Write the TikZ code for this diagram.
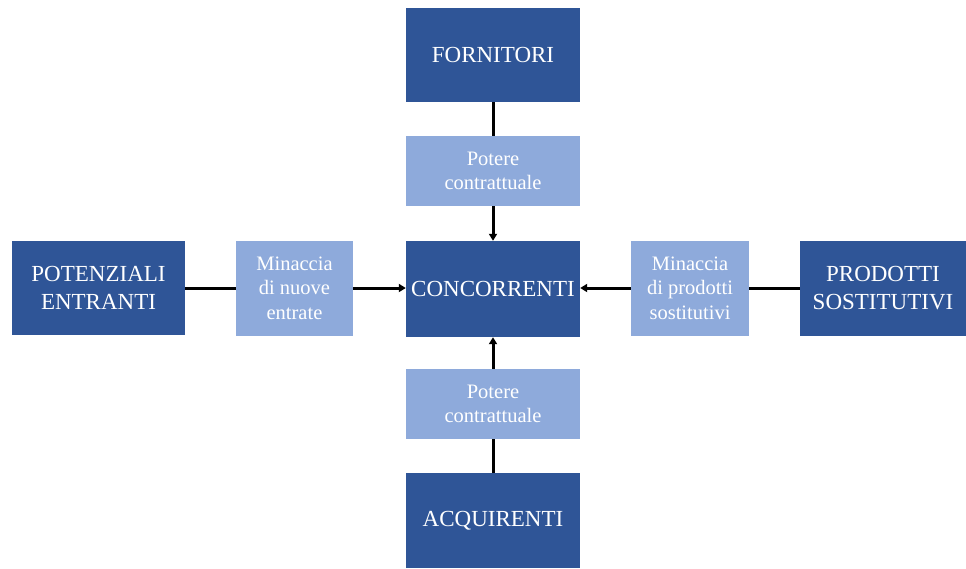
\documentclass[tikz,border=0pt]{standalone}
\usepackage{fontspec}
\setmainfont{Liberation Serif}
\usetikzlibrary{arrows.meta}
\definecolor{darkbox}{HTML}{2F5597}
\definecolor{lightbox}{HTML}{8EAADB}
\begin{document}
\begin{tikzpicture}[x=1pt,y=-1pt,
  darkbox/.style={fill=darkbox, text=white, inner sep=0pt, align=center,
    font=\fontsize{23}{28.5}\selectfont},
  lightbox/.style={fill=lightbox, text=white, inner sep=0pt, align=center,
    font=\fontsize{20.5}{24.5}\selectfont},
  conn/.style={line width=3pt, black},
  arr/.style={conn, -{Triangle[length=7pt,width=8pt]}}]
\useasboundingbox (0,0) rectangle (966,568);
\node[darkbox, minimum width=174pt, minimum height=94pt] (forn) at (493,55) {FORNITORI};
\node[lightbox, minimum width=174pt, minimum height=70pt] (pt) at (493,171) {Potere\\contrattuale};
\node[darkbox, minimum width=174pt, minimum height=96pt] (conc) at (493,289) {CONCORRENTI};
\node[lightbox, minimum width=174pt, minimum height=70pt] (pb) at (493,404) {Potere\\contrattuale};
\node[darkbox, minimum width=174pt, minimum height=95pt] (acq) at (493,520.5) {ACQUIRENTI};
\node[darkbox, minimum width=173pt, minimum height=94pt] (pot) at (98.5,288) {POTENZIALI\\ENTRANTI};
\node[lightbox, minimum width=117pt, minimum height=95pt] (mn) at (294.5,288) {Minaccia\\di nuove\\entrate};
\node[lightbox, minimum width=118pt, minimum height=95pt] (mp) at (690,288) {Minaccia\\di prodotti\\sostitutivi};
\node[darkbox, minimum width=166pt, minimum height=95pt] (prod) at (883,288) {PRODOTTI\\SOSTITUTIVI};
\draw[conn] (forn.south) -- (pt.north);
\draw[arr] (pt.south) -- (conc.north);
\draw[conn] (acq.north) -- (pb.south);
\draw[arr] (pb.north) -- (conc.south);
\draw[conn] (pot.east) -- (mn.west);
\draw[arr] (mn.east) -- (mn.east -| conc.west);
\draw[conn] (prod.west) -- (mp.east);
\draw[arr] (mp.west) -- (mp.west -| conc.east);
\end{tikzpicture}
\end{document}
